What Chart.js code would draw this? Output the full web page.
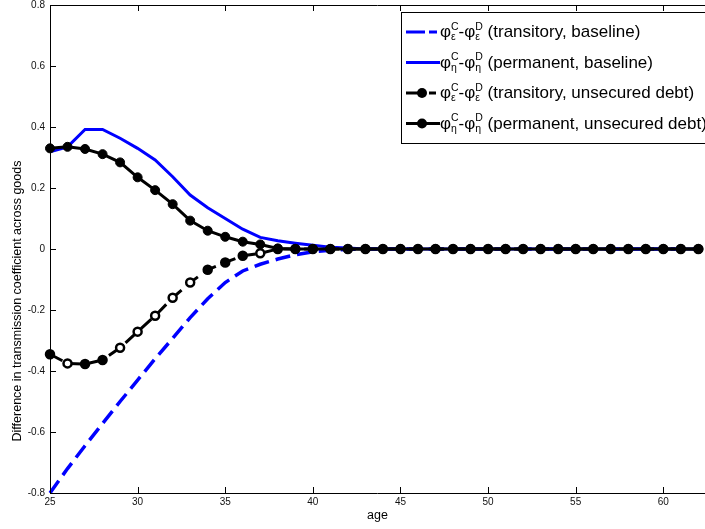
<!DOCTYPE html>
<html>
<head>
<meta charset="utf-8">
<script src="https://cdn.jsdelivr.net/npm/chart.js@4/dist/chart.umd.min.js"></script>
<style>
  body { margin: 0; background: #fff; }
</style>
</head>
<body>
<canvas id="chart" width="705" height="529"></canvas>
<script>
// age grid
const ages = [25, 26, 27, 28, 29, 30, 31, 32, 33, 34, 35, 36, 37, 38, 39, 40, 41, 42, 43,
              44, 45, 46, 47, 48, 49, 50, 51, 52, 53, 54, 55, 56, 57, 58, 59, 60, 61, 62]

const zeros = n => new Array(n).fill(0)

// transmission coefficient differences, phi^C - phi^D
const transBase = [-0.80, -0.72, -0.645, -0.572, -0.50, -0.43, -0.36, -0.293, -0.225, -0.163,
                   -0.11, -0.072, -0.05, -0.033, -0.019, -0.009, -0.004, -0.001].concat(zeros(20))
const permBase = [0.319, 0.335, 0.392, 0.392, 0.363, 0.330, 0.292, 0.237, 0.177, 0.135,
                  0.100, 0.065, 0.038, 0.027, 0.019, 0.012, 0.006, 0.003].concat(zeros(20))
const transDebt = [-0.345, -0.375, -0.377, -0.364, -0.324, -0.271, -0.219, -0.160, -0.110,
                   -0.068, -0.044, -0.022, -0.014].concat(zeros(25))
const permDebt = [0.330, 0.335, 0.328, 0.311, 0.284, 0.235, 0.193, 0.147, 0.093, 0.060,
                  0.040, 0.024, 0.015, 0.002].concat(zeros(24))

const xTicks = [25, 30, 35, 40, 45, 50, 55, 60]
const yTicks = [-0.8, -0.6, -0.4, -0.2, 0, 0.2, 0.4, 0.6, 0.8]

const yTitle = "Difference in transmission coefficient across goods"
const shockSymbols = ["ε", "η", "ε", "η"]
const seriesNotes = ["transitory, baseline", "permanent, baseline",
                     "transitory, unsecured debt", "permanent, unsecured debt"]

const FONT = '"Liberation Sans", Arial, sans-serif'

function pts(vals) {
    return vals.map((v, i) => ({ x: ages[i], y: v }))
}

// some markers on the dashed debt line render hollow
const hollow = [26, 29, 30, 31, 32, 33, 37]
const transDebtFill = ages.map(a => hollow.includes(a) ? "#fff" : "#000")

// MATLAB-style box: inward ticks on left, bottom and top, plus the y label
const frame = {
    id: "frame",
    afterDraw(chart) {
        const { ctx, chartArea: a, scales: { x, y } } = chart
        ctx.save()
        ctx.strokeStyle = "#000"
        ctx.lineWidth = 1
        ctx.beginPath()
        ctx.moveTo(a.left + 0.5, a.top)
        ctx.lineTo(a.left + 0.5, a.bottom + 1)
        ctx.moveTo(a.left, a.bottom + 0.5)
        ctx.lineTo(a.right, a.bottom + 0.5)
        ctx.moveTo(a.left, a.top + 0.5)
        ctx.lineTo(a.right, a.top + 0.5)
        yTicks.forEach(v => {
            const py = Math.round(y.getPixelForValue(v)) + 0.5
            ctx.moveTo(a.left, py)
            ctx.lineTo(a.left + 6, py)
        })
        xTicks.forEach(v => {
            const px = Math.round(x.getPixelForValue(v)) + 0.5
            ctx.moveTo(px, a.bottom)
            ctx.lineTo(px, a.bottom - 6)
            ctx.moveTo(px, a.top)
            ctx.lineTo(px, a.top + 6)
        })
        ctx.stroke()

        ctx.translate(18, 301)
        ctx.rotate(-Math.PI / 2)
        ctx.fillStyle = "#000"
        ctx.font = "12.5px " + FONT
        ctx.textAlign = "center"
        ctx.textBaseline = "middle"
        ctx.fillText(yTitle, 0, 0)
        ctx.restore()
    }
}

const legendStyles = [
    { color: "#0000ff", width: 3, dash: [19, 4, 8, 60], marker: false },
    { color: "#0000ff", width: 3, dash: [], marker: false },
    { color: "#000", width: 3, dash: [17, 6, 7, 60], marker: true },
    { color: "#000", width: 3, dash: [], marker: true }
]

const phiLegend = {
    id: "phiLegend",
    afterDraw(chart) {
        const ctx = chart.ctx
        ctx.save()
        ctx.fillStyle = "#fff"
        ctx.fillRect(401, 12, 310, 131)
        ctx.strokeStyle = "#000"
        ctx.lineWidth = 1
        ctx.strokeRect(401.5, 12.5, 310, 131)

        legendStyles.forEach((s, i) => {
            const base = 37 + i * 30.5
            const ly = base - 5
            ctx.strokeStyle = s.color
            ctx.lineWidth = s.width
            ctx.setLineDash(s.dash)
            ctx.beginPath()
            ctx.moveTo(406, ly)
            ctx.lineTo(440, ly)
            ctx.stroke()
            ctx.setLineDash([])
            if (s.marker) {
                ctx.fillStyle = "#000"
                ctx.beginPath()
                ctx.arc(422, ly, 5, 0, Math.PI * 2)
                ctx.fill()
            }

            ctx.fillStyle = "#000"
            ctx.textBaseline = "alphabetic"
            let tx = 440
            const big = "17px " + FONT
            const small = "10.5px " + FONT
            const phi = (sup) => {
                ctx.font = big
                ctx.fillText("φ", tx, base)
                tx += ctx.measureText("φ").width
                ctx.font = small
                ctx.fillText(sup, tx, base - 7.5)
                ctx.fillText(shockSymbols[i], tx, base + 3)
                tx += Math.max(ctx.measureText(sup).width, ctx.measureText(shockSymbols[i]).width)
            }
            phi("C")
            ctx.font = big
            ctx.fillText("-", tx, base)
            tx += ctx.measureText("-").width
            phi("D")
            ctx.font = big
            tx += ctx.measureText(" ").width
            ctx.fillText("(" + seriesNotes[i] + ")", tx, base)
        })
        ctx.restore()
    }
}

const ctx = document.getElementById("chart").getContext("2d")

new Chart(ctx, {
    type: "line",
    data: {
        datasets: [
            {
                label: "transitory, baseline",
                data: pts(transBase),
                borderColor: "#0000ff",
                borderWidth: 3.5,
                borderDash: [15, 7],
                pointRadius: 0,
                order: 4
            },
            {
                label: "permanent, baseline",
                data: pts(permBase),
                borderColor: "#0000ff",
                borderWidth: 3,
                pointRadius: 0,
                order: 3
            },
            {
                label: "transitory, unsecured debt",
                data: pts(transDebt),
                borderColor: "#000",
                borderWidth: 3,
                borderDash: [14, 7],
                pointRadius: 4,
                pointBorderWidth: 2.5,
                pointBorderColor: "#000",
                pointBackgroundColor: transDebtFill,
                order: 2
            },
            {
                label: "permanent, unsecured debt",
                data: pts(permDebt),
                borderColor: "#000",
                borderWidth: 3,
                pointRadius: 4.5,
                pointBorderWidth: 1,
                pointBorderColor: "#000",
                pointBackgroundColor: "#000",
                order: 1
            }
        ]
    },
    options: {
        responsive: false,
        animation: false,
        events: [],
        clip: false,
        layout: {
            autoPadding: false,
            padding: { top: 5, right: 0, bottom: 0, left: 0 }
        },
        plugins: {
            legend: { display: false },
            tooltip: { enabled: false }
        },
        scales: {
            x: {
                type: "linear",
                min: 25,
                max: 62.38,
                afterBuildTicks: s => { s.ticks = xTicks.map(v => ({ value: v })) },
                afterFit: s => {
                    s.height = 36
                    s.paddingLeft = 0
                    s.paddingRight = 0
                },
                grid: { display: false, drawTicks: false },
                border: { display: false },
                ticks: {
                    autoSkip: false,
                    maxRotation: 0,
                    padding: 3,
                    color: "#111",
                    font: { family: FONT, size: 10 }
                },
                title: {
                    display: true,
                    text: "age",
                    color: "#000",
                    font: { family: FONT, size: 12.5 },
                    padding: { top: 0, bottom: 5.5 }
                }
            },
            y: {
                min: -0.8,
                max: 0.8,
                afterBuildTicks: s => { s.ticks = yTicks.map(v => ({ value: v })) },
                afterFit: s => {
                    s.width = 50
                    s.paddingTop = 0
                    s.paddingBottom = 0
                },
                grid: { display: false, drawTicks: false },
                border: { display: false },
                ticks: {
                    padding: 5,
                    color: "#111",
                    font: { family: FONT, size: 10 },
                    callback: v => String(+v.toFixed(1))
                }
            }
        }
    },
    plugins: [frame, phiLegend]
})
</script>
</body>
</html>
